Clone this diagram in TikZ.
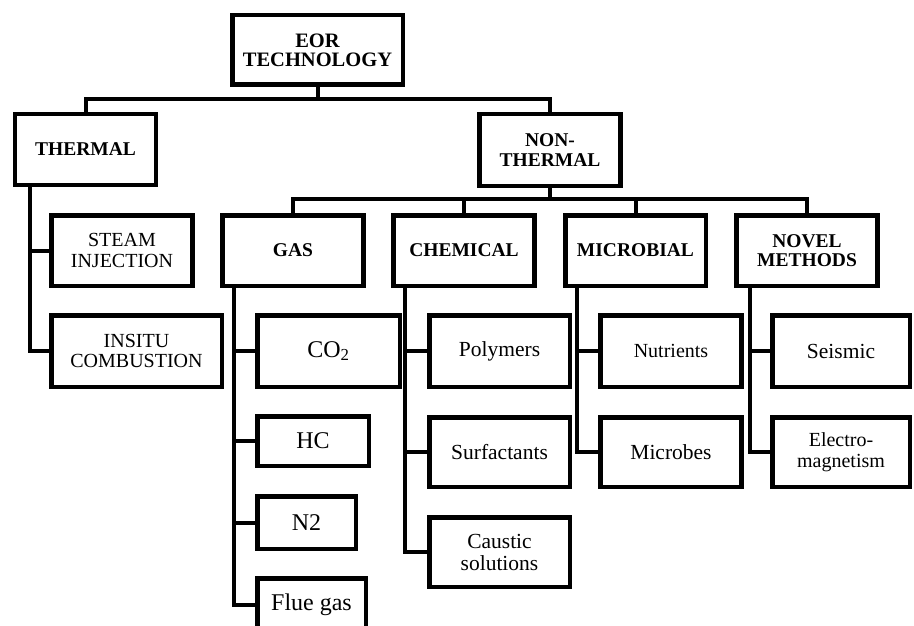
\documentclass[tikz,border=0pt]{standalone}
\usepackage{fontspec}
\setmainfont{Liberation Serif}
\usetikzlibrary{positioning,calc}

\begin{document}
\begin{tikzpicture}[x=1pt,y=-1pt,
    head/.style={rectangle,draw,line width=4.5pt,minimum width=141pt,minimum height=70.5pt,
                 inner sep=0pt,font=\fontsize{19.5}{19.5}\selectfont\bfseries,align=center},
    leaf/.style={rectangle,draw,line width=4.5pt,minimum width=141pt,minimum height=71.5pt,
                 inner sep=0pt,font=\fontsize{21.5}{22}\selectfont,align=center},
    smallleaf/.style={leaf,font=\fontsize{20}{20.5}\selectfont},
    gasleaf/.style={leaf,font=\fontsize{24}{26}\selectfont},
    conn/.style={line width=4pt}
  ]
  \useasboundingbox (0,0) rectangle (914,626);
  \clip (0,0) rectangle (914,626);

  \node[head,minimum width=170.5pt,minimum height=69.5pt,
        font=\fontsize{20.5}{19}\selectfont\bfseries] (eor) at (317.5,50) {EOR\\TECHNOLOGY};
  \node[head] (thermal) at (85.5,149.5) {THERMAL};
  \node[head,minimum height=71.5pt] (nonthermal) at (550,150) {NON-\\THERMAL};

  \node[smallleaf,minimum height=70.5pt] (steam) at (122,250.5) {STEAM\\INJECTION};
  \node[smallleaf,minimum width=170.5pt] (insitu) at (136.5,351) {INSITU\\COMBUSTION};

  \node[head] (gas) at (293,250.5) {GAS};
  \node[head] (chemical) at (464,250.5) {CHEMICAL};
  \node[head,minimum width=140.5pt] (microbial) at (635.5,250.5) {MICROBIAL};
  \node[head] (novel) at (807,250.5) {NOVEL\\METHODS};

  \node[gasleaf,minimum width=142.5pt] (co2) at (328.5,351) {CO\textsubscript{2}};
  \node[gasleaf,minimum width=111.5pt,minimum height=49.5pt] (hc) at (313,441) {HC};
  \node[gasleaf,minimum width=98.5pt,minimum height=52.5pt] (n2) at (306.5,522.5) {N2};
  \node[gasleaf,minimum width=108.5pt,minimum height=54pt] (flue) at (311.5,605.25) {Flue gas};

  \node[leaf,minimum width=140.5pt] (polymers) at (499.5,351) {Polymers};
  \node[leaf,minimum width=140.5pt,minimum height=69.5pt] (surfactants) at (499.5,452) {Surfactants};
  \node[leaf,minimum width=140.5pt,minimum height=69.5pt] (caustic) at (499.5,552) {Caustic\\solutions};

  \node[smallleaf] (nutrients) at (671,351) {Nutrients};
  \node[leaf,minimum height=69.5pt] (microbes) at (671,452) {Microbes};

  \node[leaf,minimum width=137.5pt] (seismic) at (841,351) {Seismic};
  \node[smallleaf,minimum width=137.5pt,minimum height=69.5pt] (electro) at (841,452) {Electro-\\magnetism};

  \coordinate (topbar) at (0,99);
  \coordinate (ntbar) at (0,199);
  \draw[conn] (eor.south) -- (eor.south |- topbar);
  \draw[conn] (thermal.north) -- (thermal.north |- topbar) -| (nonthermal.north);
  \draw[conn] (nonthermal.south) -- (nonthermal.south |- ntbar);
  \draw[conn] (gas.north) -- (gas.north |- ntbar) -| (novel.north);
  \draw[conn] (chemical.north) -- (chemical.north |- ntbar);
  \draw[conn] (microbial.north) -- (microbial.north |- ntbar);

  \foreach \kid in {steam,insitu} \draw[conn] ([xshift=17pt]thermal.south west) |- (\kid.west);
  \foreach \kid in {co2,hc,n2,flue} \draw[conn] ([xshift=14pt]gas.south west) |- (\kid.west);
  \foreach \kid in {polymers,surfactants,caustic} \draw[conn] ([xshift=14pt]chemical.south west) |- (\kid.west);
  \foreach \kid in {nutrients,microbes} \draw[conn] ([xshift=14pt]microbial.south west) |- (\kid.west);
  \foreach \kid in {seismic,electro} \draw[conn] ([xshift=16pt]novel.south west) |- (\kid.west);
\end{tikzpicture}
\end{document}
